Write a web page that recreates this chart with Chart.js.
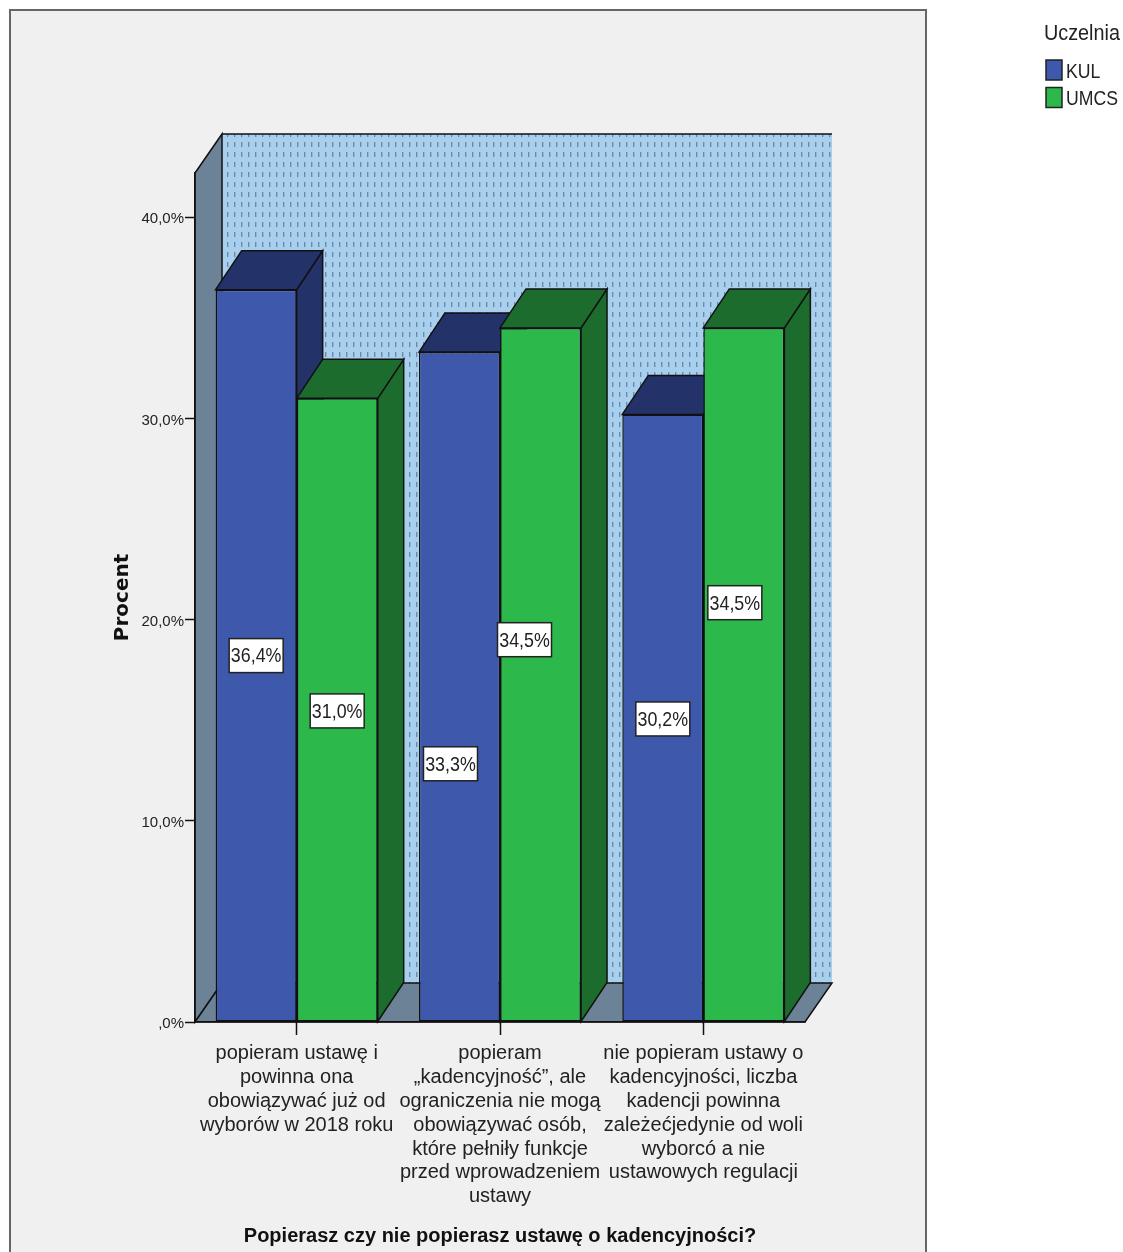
<!DOCTYPE html>
<html>
<head>
<meta charset="utf-8">
<script src="https://cdn.jsdelivr.net/npm/chart.js@4"></script>
<style>
  body { margin: 0; background: #fff; }
  canvas { display: block; }
</style>
</head>
<body>
<canvas id="chart" width="1123" height="1252"></canvas>
<script>
const categories = [
  ['popieram ustawę i', 'powinna ona', 'obowiązywać już od', 'wyborów w 2018 roku'],
  ['popieram', '„kadencyjność”, ale', 'ograniczenia nie mogą', 'obowiązywać osób,', 'które pełniły funkcje', 'przed wprowadzeniem', 'ustawy'],
  ['nie popieram ustawy o', 'kadencyjności, liczba', 'kadencji powinna', 'zależećjedynie od woli', 'wyborcó a nie', 'ustawowych regulacji']
];
const kul = [36.4, 33.3, 30.2];
const umcs = [31.0, 34.5, 34.5];
const seriesNames = ['KUL', 'UMCS'];
const frontColors = ['#3e58ac', '#2db84b'];
const sideColors = ['#233269', '#1c6c2e'];

const sans = '"Liberation Sans", sans-serif';
const depthX = 27;
const depthY = 39;
const barDepthX = 26;
// value boxes were dragged by hand in the original, per series and category
const boxShift = [
  [[0, 0], [-9, 77], [0, 1]],
  [[0, 1], [-16, -35], [-9, -72]]
];

function pct(v) {
  return v.toFixed(1).replace('.', ',').replace(/^0,/, ',') + '%';
}

function poly(ctx, pts, fill) {
  ctx.beginPath();
  pts.forEach((p, i) => i ? ctx.lineTo(p[0], p[1]) : ctx.moveTo(p[0], p[1]));
  ctx.closePath();
  if (fill) {
    ctx.fillStyle = fill;
    ctx.fill();
  }
  ctx.stroke();
}

// the original text is narrower than any installed font
function squeezed(ctx, text, x, y, sx) {
  ctx.save();
  ctx.translate(x, y);
  ctx.scale(sx, 1);
  ctx.fillText(text, 0, 0);
  ctx.restore();
}

// dotted texture of the back wall
function wallPattern(ctx) {
  const c = document.createElement('canvas');
  c.width = 7;
  c.height = 10;
  const p = c.getContext('2d');
  p.fillStyle = '#a9cfee';
  p.fillRect(0, 0, 7, 10);
  p.fillStyle = '#93b5d4';
  p.fillRect(4, 2, 1, 5);
  p.fillStyle = '#6a8aa8';
  p.fillRect(3, 2, 1, 5);
  return ctx.createPattern(c, 'repeat');
}

const walls = {
  id: 'walls',
  beforeDraw(chart) {
    const { ctx, chartArea: a } = chart;
    ctx.save();
    ctx.fillStyle = '#f0f0f0';
    ctx.strokeStyle = '#666';
    ctx.lineWidth = 2;
    ctx.fillRect(10, 10, 916, 1260);
    ctx.strokeRect(10, 10, 916, 1260);

    ctx.strokeStyle = '#111';
    ctx.lineWidth = 1.5;
    ctx.fillStyle = wallPattern(ctx);
    ctx.fillRect(a.left + depthX, a.top - depthY, a.width, a.height);
    poly(ctx, [[a.left, a.top], [a.left + depthX, a.top - depthY], [a.left + depthX, a.bottom - depthY], [a.left, a.bottom]], '#6c8297');
    poly(ctx, [[a.left, a.bottom], [a.left + depthX, a.bottom - depthY], [a.right + depthX, a.bottom - depthY], [a.right, a.bottom]], '#6c8297');
    ctx.beginPath();
    ctx.moveTo(a.left + depthX, a.top - depthY);
    ctx.lineTo(a.right + depthX, a.top - depthY);
    ctx.stroke();
    ctx.restore();
  }
};

// top and side faces of the bars, taken from the bar elements
const barDepth = {
  id: 'barDepth',
  beforeDatasetsDraw(chart) {
    const { ctx } = chart;
    ctx.save();
    ctx.strokeStyle = '#111';
    ctx.lineWidth = 1.5;
    categories.forEach((_, i) => {
      chart.data.datasets.forEach((ds, d) => {
        const b = chart.getDatasetMeta(d).data[i];
        const l = b.x - b.width / 2, r = b.x + b.width / 2;
        poly(ctx, [[r, b.y], [r + barDepthX, b.y - depthY], [r + barDepthX, b.base - depthY], [r, b.base]], sideColors[d]);
        poly(ctx, [[l, b.y], [l + barDepthX, b.y - depthY], [r + barDepthX, b.y - depthY], [r, b.y]], sideColors[d]);
      });
    });
    ctx.restore();
  }
};

const valueBoxes = {
  id: 'valueBoxes',
  afterDatasetsDraw(chart) {
    const { ctx } = chart;
    ctx.save();
    ctx.font = '21px ' + sans;
    ctx.textAlign = 'center';
    ctx.textBaseline = 'middle';
    chart.data.datasets.forEach((ds, d) => {
      chart.getDatasetMeta(d).data.forEach((b, i) => {
        const x = b.x + boxShift[d][i][0];
        const y = (b.y + b.base) / 2 + boxShift[d][i][1];
        ctx.fillStyle = '#fff';
        ctx.fillRect(x - 27, y - 17, 54, 34);
        ctx.strokeStyle = '#222';
        ctx.lineWidth = 1.5;
        ctx.strokeRect(x - 27, y - 17, 54, 34);
        ctx.fillStyle = '#222';
        squeezed(ctx, pct(ds.data[i]), x, y + 1, 0.85);
      });
    });
    ctx.restore();
  }
};

const legendBox = {
  id: 'legendBox',
  afterDraw(chart) {
    const { ctx } = chart;
    ctx.save();
    ctx.textBaseline = 'middle';
    ctx.fillStyle = '#222';
    ctx.font = '22px ' + sans;
    squeezed(ctx, 'Uczelnia', 1044, 34, 0.9);
    ctx.font = '21px ' + sans;
    seriesNames.forEach((name, i) => {
      const y = 60 + i * 27.5;
      ctx.fillStyle = frontColors[i];
      ctx.strokeStyle = '#222';
      ctx.lineWidth = 1.5;
      ctx.fillRect(1046, y, 16, 20);
      ctx.strokeRect(1046, y, 16, 20);
      ctx.fillStyle = '#222';
      squeezed(ctx, name, 1066, y + 12, 0.84);
    });
    ctx.restore();
  }
};

new Chart(document.getElementById('chart'), {
  type: 'bar',
  data: {
    labels: categories,
    datasets: [
      { label: seriesNames[0], data: kul, backgroundColor: frontColors[0] },
      { label: seriesNames[1], data: umcs, backgroundColor: frontColors[1] }
    ]
  },
  options: {
    responsive: false,
    devicePixelRatio: 1,
    animation: false,
    layout: { padding: { left: 100, right: 318, top: 173, bottom: 0 } },
    datasets: {
      bar: { categoryPercentage: 0.797, barPercentage: 1, borderColor: '#111', borderWidth: 1.5, borderSkipped: false }
    },
    plugins: { legend: { display: false }, tooltip: { enabled: false } },
    scales: {
      x: {
        afterFit(s) { s.height = 230; },
        grid: { offset: false, drawOnChartArea: false, tickLength: 13, tickColor: '#111', tickWidth: 1.5 },
        border: { color: '#111', width: 1.5 },
        ticks: {
          autoSkip: false,
          maxRotation: 0,
          color: '#222',
          padding: 7,
          font: { family: sans, size: 20, lineHeight: '23.8px' }
        },
        title: {
          display: true,
          text: 'Popierasz czy nie popierasz ustawę o kadencyjności?',
          color: '#111',
          padding: { top: 0, bottom: 4 },
          font: { family: sans, size: 20, weight: 'bold' }
        }
      },
      y: {
        min: 0,
        max: 42.2,
        afterFit(s) { s.width = 95; },
        grid: { drawOnChartArea: false, tickLength: 10, tickColor: '#111', tickWidth: 1.5 },
        border: { color: '#111', width: 1.5 },
        ticks: {
          stepSize: 10,
          includeBounds: false,
          color: '#222',
          padding: 1,
          labelOffset: 2,
          font: { family: sans, size: 15 },
          callback: v => pct(v)
        },
        title: {
          display: true,
          text: 'Procent',
          color: '#111',
          padding: { top: 11, bottom: 0 },
          font: { family: '"DejaVu Sans"', size: 20, weight: 'bold' }
        }
      }
    }
  },
  plugins: [walls, barDepth, valueBoxes, legendBox]
});
</script>
</body>
</html>
